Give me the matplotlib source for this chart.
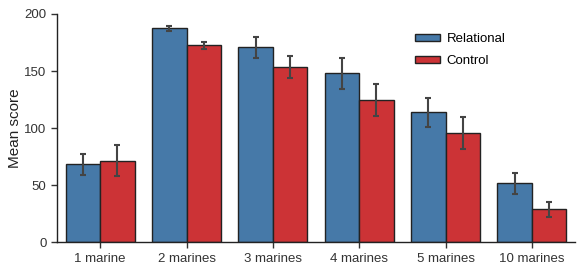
import numpy as np
import matplotlib.pyplot as plt

plt.rcParams['font.family'] = ['Liberation Sans', 'DejaVu Sans']

groups = ['1 marine', '2 marines', '3 marines', '4 marines', '5 marines', '10 marines']
relational = [68.2, 187.4, 170.8, 148.0, 113.7, 51.5]
relational_err = [9.0, 2.0, 9.2, 13.5, 13.0, 9.0]
control = [71.3, 172.5, 153.8, 124.3, 95.9, 28.7]
control_err = [13.5, 3.3, 9.5, 14.0, 14.0, 6.5]

blue = '#4679a8'
red = '#cc3336'

fig = plt.figure(figsize=(5.82, 2.69), dpi=100)
ax = fig.add_axes([0.098, 0.100, 0.890, 0.848])

x = np.arange(len(groups))
w = 0.4
err_kw = dict(ecolor='#444444', elinewidth=1.5, capsize=2.5, capthick=1.5)
ax.bar(x - w / 2, relational, w, yerr=relational_err, color=blue,
       edgecolor='#222222', linewidth=1, label='Relational', error_kw=err_kw)
ax.bar(x + w / 2, control, w, yerr=control_err, color=red,
       edgecolor='#222222', linewidth=1, label='Control', error_kw=err_kw)

ax.set_xlim(-0.5, 5.5)
ax.set_ylim(0, 200)
ax.set_yticks([0, 50, 100, 150, 200])
ax.set_xticks(x)
ax.set_xticklabels(groups)
ax.set_ylabel('Mean score', fontsize=11, color='#222222', labelpad=2)
ax.tick_params(labelsize=9.5, colors='#333333', length=4, width=1)
ax.spines['top'].set_visible(False)
ax.spines['right'].set_visible(False)
for s in ['left', 'bottom']:
    ax.spines[s].set_color('#222222')
    ax.spines[s].set_linewidth(1)

ax.legend(loc='upper left', bbox_to_anchor=(0.668, 0.968), frameon=False,
          fontsize=9.5, handlelength=1.9, handleheight=0.4, labelspacing=0.75,
          handletextpad=0.5)

plt.savefig('out.png', dpi=100)
